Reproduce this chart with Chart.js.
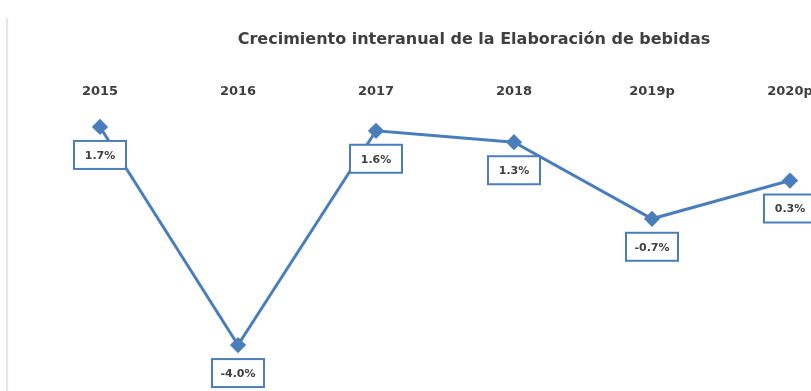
<!DOCTYPE html>
<html>
<head>
<meta charset="utf-8">
<script src="https://cdn.jsdelivr.net/npm/chart.js@4/dist/chart.umd.min.js"></script>
<style>
  html, body { margin: 0; padding: 0; background: #ffffff; overflow: hidden; }
  #wrap { position: relative; width: 811px; height: 391px; overflow: hidden; }
  #edge { position: absolute; left: 6px; top: 18px; bottom: 0; width: 2px; background: #dcebea; }
  #plot { position: absolute; left: 0; top: 0; }
</style>
</head>
<body>
<div id="wrap">
  <div id="edge"></div>
  <canvas id="plot" width="948" height="391"></canvas>
</div>
<script>
// Year-on-year growth of beverage manufacturing (%)
const years = ['2015', '2016', '2017', '2018', '2019p', '2020p'];
const growth = [1.7, -4.0, 1.6, 1.3, -0.7, 0.3];
const chartTitle = 'Crecimiento interanual de la Elaboración de bebidas';

const blue = '#4a7ebb';
const textGrey = '#3f3f3f';

// Boxed value labels drawn under each point
const boxedLabels = {
  id: 'boxedLabels',
  afterDatasetsDraw(chart) {
    const ctx = chart.ctx;
    const meta = chart.getDatasetMeta(0);
    ctx.save();
    ctx.font = 'bold 11px "DejaVu Sans"';
    ctx.textAlign = 'center';
    ctx.textBaseline = 'middle';
    meta.data.forEach((pt, i) => {
      const txt = growth[i].toFixed(1) + '%';
      const w = 52, h = 28;
      const x = pt.x - w / 2;
      const y = pt.y + 14;
      ctx.fillStyle = '#ffffff';
      ctx.fillRect(x, y, w, h);
      ctx.lineWidth = 2;
      ctx.strokeStyle = blue;
      ctx.strokeRect(x, y, w, h);
      ctx.fillStyle = textGrey;
      ctx.fillText(txt, pt.x, y + h / 2 + 1);
    });
    ctx.restore();
  }
};

// Invisible side axes that only reserve horizontal space
const spacer = (pos, w) => ({
  type: 'linear',
  position: pos,
  display: true,
  grid: { display: false, drawTicks: false },
  border: { display: false },
  ticks: { display: false },
  afterFit(scale) { scale.width = w; }
});

new Chart(document.getElementById('plot'), {
  type: 'line',
  data: {
    labels: years,
    datasets: [{
      data: growth,
      yAxisID: 'y',
      borderColor: blue,
      backgroundColor: blue,
      borderWidth: 3,
      pointStyle: 'rectRot',
      pointRadius: 6,
      pointHoverRadius: 6,
      pointBackgroundColor: blue,
      pointBorderColor: blue,
      tension: 0,
      clip: false
    }]
  },
  options: {
    responsive: false,
    animation: false,
    events: [],
    layout: { autoPadding: false, padding: 0 },
    plugins: {
      legend: { display: false },
      tooltip: { enabled: false },
      title: {
        display: true,
        text: chartTitle,
        color: textGrey,
        font: { family: '"DejaVu Sans"', size: 16, weight: 'bold' },
        padding: { top: 30, bottom: 27 },
        align: 'center',
        fullSize: true
      }
    },
    scales: {
      x: {
        position: 'top',
        offset: true,
        grid: { display: false, drawTicks: false },
        border: { display: false },
        ticks: {
          color: textGrey,
          font: { family: '"DejaVu Sans"', size: 13, weight: 'bold' },
          padding: 8,
          maxRotation: 0,
          autoSkip: false
        }
      },
      y: Object.assign(spacer('left', 31), { min: -5.2, max: 2.2 }),
      yRight: spacer('right', 89)
    }
  },
  plugins: [boxedLabels]
});
</script>
</body>
</html>
